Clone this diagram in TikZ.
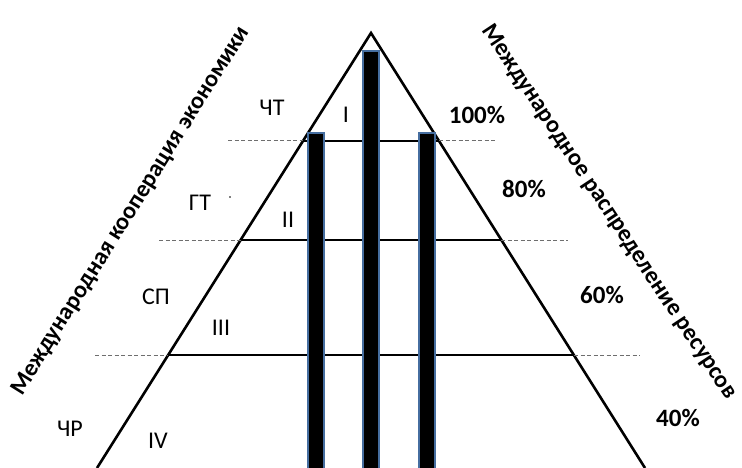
\documentclass[tikz,border=0pt]{standalone}
\usepackage{fontspec}
\setmainfont{Carlito}
\definecolor{barblue}{RGB}{70,110,160}
\definecolor{dashgray}{RGB}{110,110,110}
\begin{document}
\begin{tikzpicture}[x=1pt,y=-1pt,
  side/.style={line width=2.6pt},
  level/.style={line width=2.6pt},
  guide/.style={dashgray,line width=1pt,dash pattern=on 4pt off 2.5pt},
  bar/.style={fill=black,draw=barblue,line width=2.2pt},
  lbl/.style={font=\fontsize{24}{28}\selectfont,inner sep=0pt},
  pct/.style={font=\fontsize{25}{29}\selectfont\bfseries,inner sep=0pt},
  axis/.style={font=\fontsize{24}{28}\selectfont\bfseries,inner sep=0pt}]
\useasboundingbox (0,0) rectangle (742,468);
% triangle
\coordinate (apex) at (371,33);
\coordinate (bl) at (97,468);
\coordinate (br) at (645,468);
\draw[side] (bl) -- (apex) -- (br);
% levels
\coordinate (l1) at (303,141); \coordinate (r1) at (439,141);
\coordinate (l2) at (241,240); \coordinate (r2) at (501,240);
\coordinate (l3) at (168,355); \coordinate (r3) at (574,355);
\coordinate (dl1) at (228,141); \coordinate (dr1) at (497,141);
\coordinate (dl2) at (159,240); \coordinate (dr2) at (568,240);
\coordinate (dl3) at (95,355);  \coordinate (dr3) at (640,355);
\draw[level] (l1) -- (r1);
\draw[level] (l2) -- (r2);
\draw[level] (l3) -- (r3);
\draw[guide] (dl1) -- (l1); \draw[guide] (r1) -- (dr1);
\draw[guide] (dl2) -- (l2); \draw[guide] (r2) -- (dr2);
\draw[guide] (dl3) -- (l3); \draw[guide] (r3) -- (dr3);
% bars
\draw[bar] (308,133) rectangle (324,470);
\draw[bar] (363,51) rectangle (379,470);
\draw[bar] (419,133) rectangle (435,470);
% roman numerals
\node[lbl] (n1) at (346,115) {I};
\node[lbl] (n2) at (288,220) {II};
\node[lbl] (n3) at (221,328) {III};
\node[lbl] (n4) at (158,441) {IV};
% left labels
\node[lbl] (ct) at (272,108) {ЧТ};
\node[lbl] (gt) at (200,203) {ГТ};
\fill (230,197) circle (0.9);
\node[lbl] (sp) at (156,297) {СП};
\node[lbl] (cr) at (70,429) {ЧР};
% percentages
\node[pct] (p100) at (477,115) {100\%};
\node[pct] (p80) at (524,189) {80\%};
\node[pct] (p60) at (602,295) {60\%};
\node[pct] (p40) at (678,418) {40\%};
% axis labels
\node[axis,rotate=58] (ax1) at (131,211) {Международная кооперация экономики};
\node[axis,rotate=-56.5] (ax2) at (609,212) {Международное распределение ресурсов};
\end{tikzpicture}
\end{document}
